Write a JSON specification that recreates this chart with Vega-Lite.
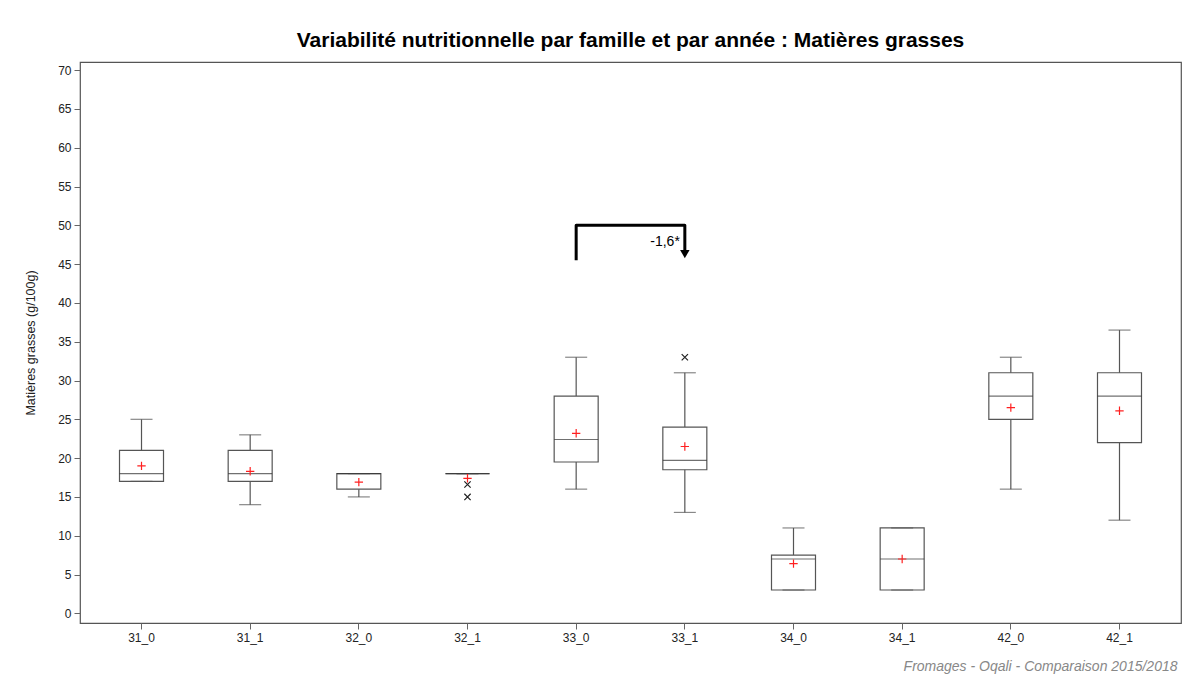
{
  "$schema": "https://vega.github.io/schema/vega-lite/v6.json",
  "autosize": {"type": "none"},
  "padding": {"left": 80, "top": 62, "right": 4, "bottom": 59},
  "width": 1101,
  "height": 561,
  "background": "white",
  "title": {
    "text": "Variabilité nutritionnelle par famille et par année : Matières grasses",
    "font": "Liberation Sans",
    "fontSize": 21,
    "fontWeight": "bold",
    "color": "#000000",
    "anchor": "middle",
    "offset": 11
  },
  "datasets": {
    "boxes": [
      {"cat": "31_0", "lower": 17, "q1": 17, "median": 18, "q3": 21, "upper": 25, "mean": 19.0},
      {"cat": "31_1", "lower": 14, "q1": 17, "median": 18, "q3": 21, "upper": 23, "mean": 18.3},
      {"cat": "32_0", "lower": 15, "q1": 16, "median": 18, "q3": 18, "upper": 18, "mean": 16.9},
      {"cat": "32_1", "lower": 18, "q1": 18, "median": 18, "q3": 18, "upper": 18, "mean": 17.4},
      {"cat": "33_0", "lower": 16, "q1": 19.5, "median": 22.4, "q3": 28, "upper": 33, "mean": 23.2},
      {"cat": "33_1", "lower": 13, "q1": 18.5, "median": 19.7, "q3": 24, "upper": 31, "mean": 21.5},
      {"cat": "34_0", "lower": 3, "q1": 3, "median": 7, "q3": 7.5, "upper": 11, "mean": 6.4},
      {"cat": "34_1", "lower": 3, "q1": 3, "median": 7, "q3": 11, "upper": 11, "mean": 7.0},
      {"cat": "42_0", "lower": 16, "q1": 25, "median": 28, "q3": 31, "upper": 33, "mean": 26.5},
      {"cat": "42_1", "lower": 12, "q1": 22, "median": 28, "q3": 31, "upper": 36.5, "mean": 26.1}
    ],
    "outliers": [
      {"cat": "32_1", "value": 16.6},
      {"cat": "32_1", "value": 15},
      {"cat": "33_1", "value": 33}
    ],
    "bracket": [
      {"cat": "33_0", "y": 45.5, "ord": 1},
      {"cat": "33_0", "y": 50, "ord": 2},
      {"cat": "33_1", "y": 50, "ord": 3},
      {"cat": "33_1", "y": 46.8, "ord": 4}
    ],
    "arrow": [{"cat": "33_1", "y": 46.3, "label": "-1,6*", "ly": 47.9}]
  },
  "encoding": {
    "x": {
      "field": "cat",
      "type": "nominal",
      "sort": null,
      "scale": {"domain": ["31_0","31_1","32_0","32_1","33_0","33_1","34_0","34_1","42_0","42_1"], "paddingInner": 0, "paddingOuter": 0.066},
      "axis": {
        "title": "Fromages - Oqali - Comparaison 2015/2018",
        "titleAnchor": "end",
        "titleAlign": "right",
        "titleX": 1097,
        "titleFont": "Liberation Sans",
        "titleFontSize": 14,
        "titleFontStyle": "italic",
        "titleFontWeight": "normal",
        "titleColor": "#888888",
        "titlePadding": 16,
        "labelAngle": 0
      }
    }
  },
  "layer": [
    {
      "data": {"name": "boxes"},
      "mark": {"type": "rule", "color": "#555555", "strokeWidth": 1.2},
      "encoding": {
        "y": {"field": "lower", "type": "quantitative", "title": "Matières grasses (g/100g)",
              "scale": {"domain": [-1.25, 71.05], "nice": false, "zero": false},
              "axis": {"values": [0,5,10,15,20,25,30,35,40,45,50,55,60,65,70]}},
        "y2": {"field": "upper"}
      }
    },
    {
      "data": {"name": "boxes"},
      "mark": {"type": "bar", "fill": "white", "stroke": "#555555", "strokeWidth": 1.2, "size": 44},
      "encoding": {
        "y": {"field": "q1", "type": "quantitative", "title": "Matières grasses (g/100g)"},
        "y2": {"field": "q3"}
      }
    },
    {
      "data": {"name": "boxes"},
      "mark": {"type": "tick", "color": "#555555", "thickness": 1.2, "size": 22},
      "encoding": {"y": {"field": "upper", "type": "quantitative", "title": "Matières grasses (g/100g)"}}
    },
    {
      "data": {"name": "boxes"},
      "mark": {"type": "tick", "color": "#555555", "thickness": 1.2, "size": 22},
      "encoding": {"y": {"field": "lower", "type": "quantitative", "title": "Matières grasses (g/100g)"}}
    },
    {
      "data": {"name": "boxes"},
      "mark": {"type": "tick", "color": "#333333", "thickness": 1.2, "size": 44},
      "encoding": {"y": {"field": "median", "type": "quantitative", "title": "Matières grasses (g/100g)"}}
    },
    {
      "data": {"name": "boxes"},
      "mark": {"type": "point", "shape": "M-1,0L1,0M0,-1L0,1", "filled": false, "stroke": "#ff2020", "strokeWidth": 1.2, "size": 70, "opacity": 1},
      "encoding": {"y": {"field": "mean", "type": "quantitative", "title": "Matières grasses (g/100g)"}}
    },
    {
      "data": {"name": "outliers"},
      "mark": {"type": "point", "shape": "M-1,-1L1,1M-1,1L1,-1", "filled": false, "stroke": "#222222", "strokeWidth": 1.2, "size": 40, "opacity": 1},
      "encoding": {"y": {"field": "value", "type": "quantitative", "title": "Matières grasses (g/100g)"}}
    },
    {
      "data": {"name": "bracket"},
      "mark": {"type": "line", "color": "#000000", "strokeWidth": 3, "strokeJoin": "round", "strokeCap": "butt"},
      "encoding": {
        "y": {"field": "y", "type": "quantitative", "title": "Matières grasses (g/100g)"},
        "order": {"field": "ord", "type": "quantitative"}
      }
    },
    {
      "data": {"name": "arrow"},
      "mark": {"type": "point", "shape": "triangle-down", "filled": true, "color": "#000000", "size": 90, "opacity": 1},
      "encoding": {"y": {"field": "y", "type": "quantitative", "title": "Matières grasses (g/100g)"}}
    },
    {
      "data": {"name": "arrow"},
      "mark": {"type": "text", "align": "right", "baseline": "middle", "dx": -5, "font": "Liberation Sans", "fontSize": 14, "color": "#000000"},
      "encoding": {
        "y": {"field": "ly", "type": "quantitative", "title": "Matières grasses (g/100g)"},
        "text": {"field": "label"}
      }
    }
  ],
  "config": {
    "view": {"stroke": "#555555", "strokeWidth": 1.2},
    "axis": {
      "domain": false,
      "grid": false,
      "ticks": true,
      "tickColor": "#666666",
      "tickSize": 6,
      "labelFont": "Liberation Sans",
      "labelFontSize": 12,
      "labelColor": "#222222",
      "labelPadding": 3,
      "titleFont": "Liberation Sans",
      "titleFontSize": 12.5,
      "titleFontWeight": "normal",
      "titleColor": "#222222"
    },
    "axisY": {"titlePadding": 20}
  }
}
